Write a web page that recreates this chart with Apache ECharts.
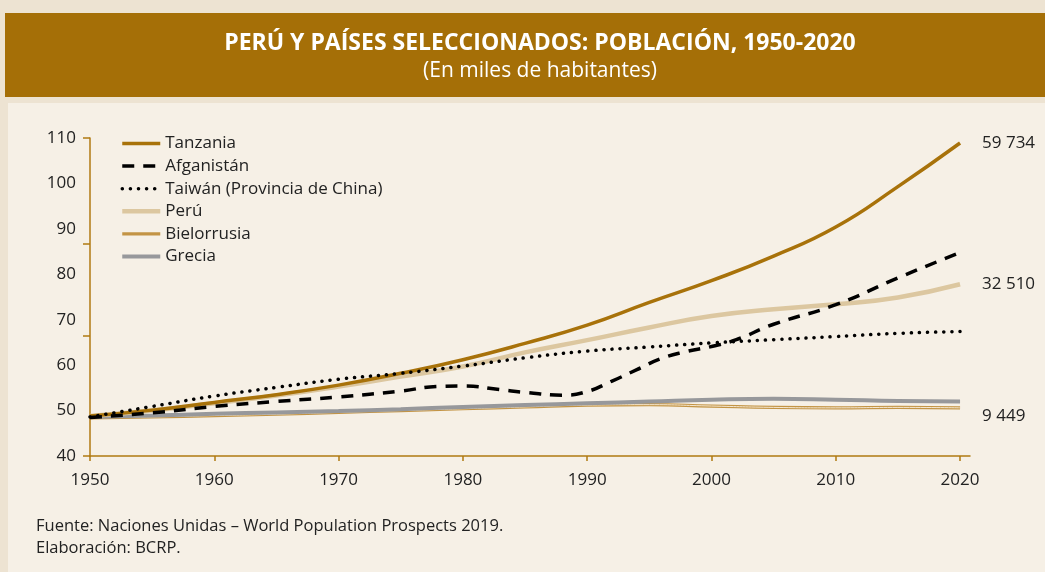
<!DOCTYPE html>
<html>
<head>
<meta charset="utf-8">
<script src="https://cdn.jsdelivr.net/npm/echarts@6/dist/echarts.min.js"></script>
<style>
  html, body { margin: 0; padding: 0; background: #ede3d2; }
  #chart { width: 1045px; height: 572px; }
</style>
</head>
<body>
<div id="chart"></div>
<script>
// valores (indice, eje 40-110)
const years = [1950, 1955, 1960, 1965, 1970, 1975, 1980, 1985, 1990, 1995, 2000, 2005, 2010, 2015, 2020];
const tanzania = [48.8, 50.1, 51.8, 53.5, 55.6, 58.2, 61.2, 64.8, 68.8, 73.8, 78.6, 84.0, 90.4, 99.3, 108.9];
const peru = [48.8, 50.0, 51.6, 53.3, 55.3, 57.5, 59.7, 62.8, 65.5, 68.3, 70.8, 72.3, 73.4, 74.9, 77.8];
const taiwan = [48.6, 50.9, 53.2, 55.1, 56.9, 58.2, 59.8, 61.6, 63.1, 64.0, 64.9, 65.6, 66.3, 67.0, 67.4];
const bielorrusia = [48.4, 48.6, 48.9, 49.2, 49.6, 50.0, 50.4, 50.8, 51.2, 51.3, 51.0, 50.7, 50.6, 50.7, 50.6];
const grecia = [48.6, 48.9, 49.3, 49.6, 49.9, 50.3, 50.8, 51.2, 51.6, 52.0, 52.4, 52.6, 52.4, 52.1, 52.0];

const afgYears = [1950, 1955, 1960, 1965, 1970, 1975, 1978, 1980, 1983, 1985, 1988, 1990, 1992, 1994, 1996, 1998, 2000, 2002, 2005, 2010, 2015, 2020];
const afganistan = [48.5, 49.5, 50.9, 52.0, 53.0, 54.3, 55.3, 55.4, 54.6, 54.0, 53.4, 54.2, 56.5, 59.0, 61.5, 63.0, 64.1, 65.6, 69.0, 73.3, 79.2, 84.8];

const xTicks = [1950, 1960, 1970, 1980, 1990, 2000, 2010, 2020];
const yTicksMarks = [40, 66.4, 86.8, 110];
const endLabels = { tanzania: '59 734', peru: '32 510', bielorrusia: '9 449' };

const pairs = (xs, ys) => xs.map((x, i) => [x, ys[i]]);

const font = 'Open Sans';
const txt = '#222';
const axisColor = '#b07a12';

const chart = echarts.init(document.getElementById('chart'));

function endLabel(text, offset) {
    return {
        show: true,
        formatter: text,
        distance: 22,
        offset: offset || [0, 0],
        color: txt,
        fontFamily: font,
        fontSize: 17
    };
}

const option = {
    backgroundColor: '#ede3d2',
    animation: false,
    graphic: [
        { type: 'rect', z: -10, shape: { x: 8, y: 103, width: 1037, height: 469 }, style: { fill: '#f6f0e6' } },
        { type: 'rect', z: -10, shape: { x: 5, y: 13, width: 1040, height: 84 }, style: { fill: '#a56f07' } },
        { type: 'text', z: 10, left: 36, top: 518, style: { text: 'Fuente: Naciones Unidas – World Population Prospects 2019.', fill: txt, font: '16.5px "Open Sans"' } },
        { type: 'text', z: 10, left: 36, top: 540, style: { text: 'Elaboración: BCRP.', fill: txt, font: '16.5px "Open Sans"' } }
    ],
    title: {
        text: 'PERÚ Y PAÍSES SELECCIONADOS: POBLACIÓN, 1950-2020',
        subtext: '(En miles de habitantes)',
        left: 535,
        textAlign: 'center',
        top: 27,
        itemGap: 6,
        textStyle: { color: '#fff', fontWeight: 'bold', fontSize: 23, fontFamily: font },
        subtextStyle: { color: '#fff', fontSize: 21, fontFamily: font }
    },
    legend: {
        orient: 'vertical',
        left: 115,
        top: 130,
        itemWidth: 38,
        itemHeight: 14,
        itemGap: 5.6,
        itemStyle: { opacity: 0 },
        lineStyle: { width: 'inherit' },
        data: ['Tanzania', 'Afganistán', 'Taiwán (Provincia de China)', 'Perú', 'Bielorrusia', 'Grecia'],
        textStyle: { color: txt, fontFamily: font, fontSize: 17 }
    },
    grid: { left: 90, right: 75, top: 138, bottom: 116 },
    xAxis: {
        type: 'value',
        min: 1950,
        max: 2020.8,
        interval: 10,
        splitLine: { show: false },
        axisLine: { lineStyle: { color: axisColor, width: 1.5 } },
        axisTick: { length: 5, customValues: xTicks, lineStyle: { color: axisColor, width: 1.5 } },
        axisLabel: { customValues: xTicks, formatter: v => String(v), margin: 16, color: txt, fontFamily: font, fontSize: 17 }
    },
    yAxis: {
        type: 'value',
        min: 40,
        max: 110,
        interval: 10,
        splitLine: { show: false },
        axisLine: { show: true, lineStyle: { color: axisColor, width: 1.5 } },
        axisTick: { show: true, length: 7, customValues: yTicksMarks, lineStyle: { color: axisColor, width: 1.5 } },
        axisLabel: { margin: 14, color: txt, fontFamily: font, fontSize: 17 }
    },
    series: [
        {
            name: 'Bielorrusia', type: 'line', symbol: 'none', smooth: true, z: 2,
            data: pairs(years, bielorrusia),
            lineStyle: { color: '#c39445', width: 3.2 },
            itemStyle: { color: '#c39445' },
            endLabel: endLabel(endLabels.bielorrusia, [0, 8])
        },
        {
            name: 'Bielorrusia', type: 'line', symbol: 'none', smooth: true, z: 3,
            data: pairs(years, bielorrusia),
            lineStyle: { color: '#f4e8d2', width: 1 },
            itemStyle: { color: '#f4e8d2' }
        },
        {
            name: 'Grecia', type: 'line', symbol: 'none', smooth: true, z: 4,
            data: pairs(years, grecia),
            lineStyle: { color: '#97989b', width: 4 },
            itemStyle: { color: '#97989b' }
        },
        {
            name: 'Perú', type: 'line', symbol: 'none', smooth: true, z: 5,
            data: pairs(years, peru),
            lineStyle: { color: '#dcc7a0', width: 4.5 },
            itemStyle: { color: '#dcc7a0' },
            endLabel: endLabel(endLabels.peru)
        },
        {
            name: 'Tanzania', type: 'line', symbol: 'none', smooth: true, z: 6,
            data: pairs(years, tanzania),
            lineStyle: { color: '#a8720a', width: 3.5 },
            itemStyle: { color: '#a8720a' },
            endLabel: endLabel(endLabels.tanzania)
        },
        {
            name: 'Afganistán', type: 'line', symbol: 'none', smooth: true, z: 7,
            data: pairs(afgYears, afganistan),
            lineStyle: { color: '#000', width: 3.5, type: [12, 9] },
            itemStyle: { color: '#000' }
        },
        {
            name: 'Taiwán (Provincia de China)', type: 'line', symbol: 'none', smooth: true, z: 8,
            data: pairs(years, taiwan),
            lineStyle: { color: '#000', width: 3.5, type: [0.1, 8], cap: 'round' },
            itemStyle: { color: '#000' }
        }
    ]
};

chart.setOption(option);
</script>
</body>
</html>
